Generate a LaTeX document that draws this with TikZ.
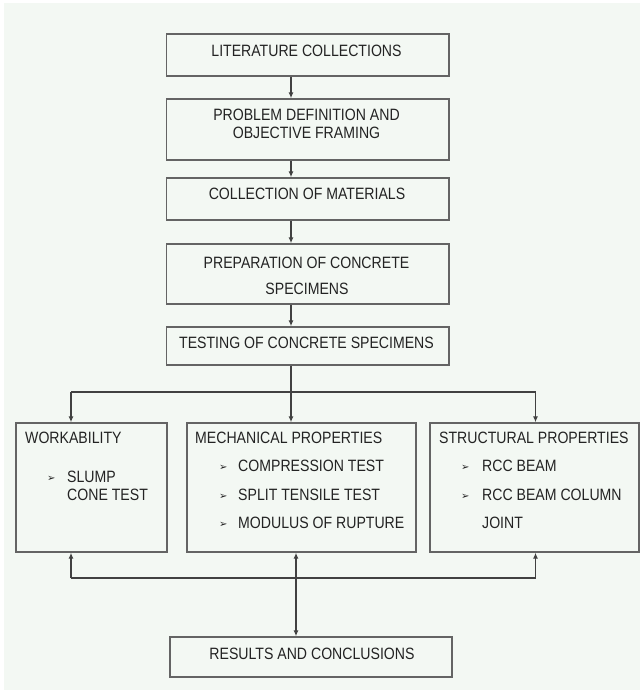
\documentclass[tikz,border=0pt]{standalone}
\usepackage{fontspec}
\setmainfont{Liberation Sans}[FakeStretch=0.86]
\newfontfamily\symfont{DejaVu Sans}
\usetikzlibrary{arrows.meta,calc}
\definecolor{bgc}{RGB}{243,248,243}
\definecolor{linec}{RGB}{65,65,65}
\definecolor{boxc}{RGB}{100,100,100}
\definecolor{txtc}{RGB}{35,35,35}
\tikzset{
  box/.style={draw=boxc, line width=1.4pt, rectangle, inner sep=0pt},
  txt/.style={anchor=base, inner sep=0pt, text=txtc, font=\fontsize{16.4}{19}\selectfont},
  ltxt/.style={anchor=base west, inner sep=0pt, text=txtc, font=\fontsize{16.4}{19}\selectfont},
  bul/.style={anchor=base west, inner sep=0pt, text=txtc, font=\symfont\fontsize{10}{12}\selectfont},
  conn/.style={draw=linec, line width=1.2pt},
  arr/.style={conn, -{Latex[length=6pt,width=5pt]}},
  darr/.style={conn, {Latex[length=6pt,width=5pt]}-{Latex[length=6pt,width=5pt]}}
}
\begin{document}
\begin{tikzpicture}[x=1pt,y=-1pt]
\useasboundingbox (0,0) rectangle (640,690);
\fill[white] (0,0) rectangle (640,690);
\fill[bgc] (4,3) rectangle (640,690);

% main column boxes
\node[box, minimum width=282.5pt, minimum height=42pt] (b1) at (307.75,55) {};
\node[box, minimum width=282.5pt, minimum height=61pt] (b2) at (307.75,129.5) {};
\node[box, minimum width=282.5pt, minimum height=42pt] (b3) at (307.75,199) {};
\node[box, minimum width=282.5pt, minimum height=60pt] (b4) at (307.75,274) {};
\node[box, minimum width=282.5pt, minimum height=38pt] (b5) at (307.75,346) {};

% texts of main column
\node[txt] (t1) at (306.5,57) {LITERATURE COLLECTIONS};
\node[txt] (t2a) at (306.5,121) {PROBLEM DEFINITION AND};
\node[txt] (t2b) at (306.5,139) {OBJECTIVE FRAMING};
\node[txt] (t3) at (307,199) {COLLECTION OF MATERIALS};
\node[txt] (t4a) at (306.5,268) {PREPARATION OF CONCRETE};
\node[txt] (t4b) at (307,294) {SPECIMENS};
\node[txt] (t5) at (306.5,348) {TESTING OF CONCRETE SPECIMENS};

% three property boxes
\node[box, minimum width=151pt, minimum height=129pt] (w) at (91.5,487.5) {};
\node[box, minimum width=229pt, minimum height=129pt] (m) at (301.5,487.5) {};
\node[box, minimum width=209pt, minimum height=129pt] (s) at (534.5,487.5) {};

\node[ltxt] (wt) at (25,443.5) {WORKABILITY};
\node[bul] (wb1) at (47,481) {➢};
\node[ltxt] (wl1) at (67,482.5) {SLUMP};
\node[ltxt] (wl2) at (67,500.5) {CONE TEST};

\node[ltxt] (mt) at (195,443.5) {MECHANICAL PROPERTIES};
\node[bul] (mb1) at (219,470) {➢};
\node[ltxt] (ml1) at (238,471.5) {COMPRESSION TEST};
\node[bul] (mb2) at (219,499) {➢};
\node[ltxt] (ml2) at (238,500.5) {SPLIT TENSILE TEST};
\node[bul] (mb3) at (219,527) {➢};
\node[ltxt] (ml3) at (238,528.5) {MODULUS OF RUPTURE};

\node[ltxt] (st) at (439,443.5) {STRUCTURAL PROPERTIES};
\node[bul] (sb1) at (461,470) {➢};
\node[ltxt] (sl1) at (482,471.5) {RCC BEAM};
\node[bul] (sb2) at (461,499) {➢};
\node[ltxt] (sl2) at (482,500.5) {RCC BEAM COLUMN};
\node[ltxt] (sl3) at (482,528.5) {JOINT};

% results box
\node[box, minimum width=282pt, minimum height=40pt] (r) at (311,657) {};
\node[txt] (rt) at (312,659) {RESULTS AND CONCLUSIONS};

% connector guide coordinates
\coordinate (ax) at (291,0);
\coordinate (lx) at (71,0);
\coordinate (rx) at (535.5,0);
\coordinate (bx) at (296,0);
\coordinate (top) at (291,392);
\coordinate (topl) at (71,392);
\coordinate (topr) at (535.5,392);
\coordinate (botl) at (71,578);
\coordinate (botr) at (535.5,578);

% main column arrows
\draw[arr] (b1.south -| ax) -- (b2.north -| ax);
\draw[arr] (b2.south -| ax) -- (b3.north -| ax);
\draw[arr] (b3.south -| ax) -- (b4.north -| ax);
\draw[arr] (b4.south -| ax) -- (b5.north -| ax);

% branching
\draw[conn] (b5.south -| ax) -- (top);
\draw[conn] (topl) -- (topr);
\draw[arr] (topl) -- (w.north -| lx);
\draw[arr] (top) -- (m.north -| ax);
\draw[arr] (topr) -- (s.north -| rx);

% merging
\draw[conn] (botl) -- (botr);
\draw[arr] (botl) -- (w.south -| lx);
\draw[arr] (botr) -- (s.south -| rx);
\draw[darr] (m.south -| bx) -- (r.north -| bx);
\end{tikzpicture}
\end{document}
